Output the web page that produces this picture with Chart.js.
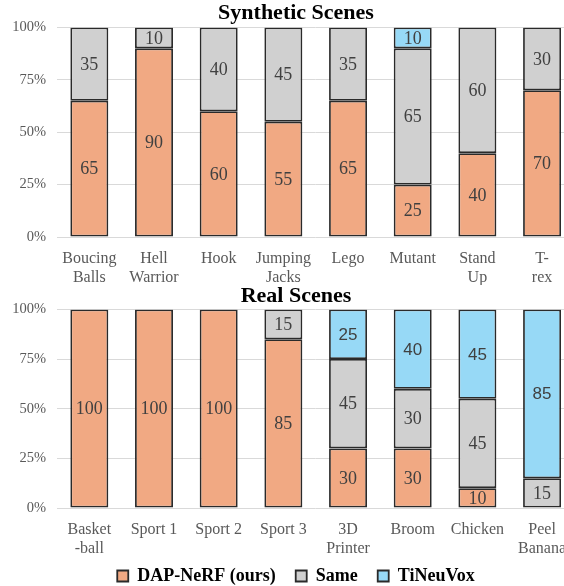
<!DOCTYPE html>
<html>
<head>
<meta charset="utf-8">
<script src="https://cdn.jsdelivr.net/npm/chart.js@4"></script>
<style>
  html, body { margin: 0; padding: 0; background: #fff; overflow: hidden; width: 564px; height: 586px; }
  .box { position: absolute; left: 0; width: 592px; }
</style>
</head>
<body>
<div class="box" style="top:0;height:285px"><canvas id="synChart" width="592" height="285"></canvas></div>
<div class="box" style="top:280px;height:315px"><canvas id="realChart" width="592" height="315"></canvas></div>
<script>
// --- data ---
const synLabels = [["Boucing", "Balls"], ["Hell", "Warrior"], "Hook", ["Jumping", "Jacks"], "Lego", "Mutant", ["Stand", "Up"], ["T-", "rex"]];
const synOurs = [65, 90, 60, 55, 65, 25, 40, 70];
const synSame = [35, 10, 40, 45, 35, 65, 60, 30];
const synTiNeuVox = [0, 0, 0, 0, 0, 10, 0, 0];

const realLabels = [["Basket", "-ball"], "Sport 1", "Sport 2", "Sport 3", ["3D", "Printer"], "Broom", "Chicken", ["Peel", "Banana"]];
const realOurs = [100, 100, 100, 85, 30, 30, 10, 0];
const realSame = [0, 0, 0, 15, 45, 30, 45, 15];
const realTiNeuVox = [0, 0, 0, 0, 25, 40, 45, 85];

const seriesNames = ["DAP-NeRF (ours)", "Same", "TiNeuVox"];
const seriesColors = ["#F1A983", "#D0D0D0", "#97D9F6"];

const SERIF = "'Liberation Serif', 'Times New Roman', serif";
const SANS = "'Liberation Sans', Arial, sans-serif";

// draws the numbers in the middle of each segment
const valueLabels = {
  id: "valueLabels",
  afterDatasetsDraw(chart) {
    const ctx = chart.ctx;
    chart.data.datasets.forEach((ds, i) => {
      const meta = chart.getDatasetMeta(i);
      meta.data.forEach((bar, j) => {
        const v = ds.data[j];
        if (!v) return;
        ctx.save();
        ctx.font = ds.labelFont;
        ctx.fillStyle = "#404040";
        ctx.textAlign = "center";
        ctx.textBaseline = "middle";
        ctx.fillText(String(v), bar.x, (bar.y + bar.base) / 2 + 1);
        ctx.restore();
      });
    });
  }
};

function makeDataset(idx, values, labelFont) {
  return {
    label: seriesNames[idx],
    data: values.map(v => v === 0 ? null : v),
    backgroundColor: seriesColors[idx],
    borderColor: "#2a2a2a",
    borderWidth: 1.8,
    borderSkipped: false,
    barPercentage: 1,
    categoryPercentage: 0.587,
    labelFont: labelFont
  };
}

function makeChart(id, title, labels, ours, same, tin, opts) {
  const ctx = document.getElementById(id);
  return new Chart(ctx, {
    type: "bar",
    data: {
      labels: labels,
      datasets: [
        makeDataset(0, ours, "18px " + SERIF),
        makeDataset(1, same, "18px " + SERIF),
        makeDataset(2, tin, opts.blueFont)
      ]
    },
    options: {
      responsive: false,
      animation: false,
      layout: { padding: 0 },
      plugins: {
        title: {
          display: true,
          text: title,
          color: "#000",
          font: { family: SERIF, size: 22, weight: "bold" },
          padding: opts.titlePadding
        },
        legend: {
          display: opts.legend,
          position: "bottom",
          labels: {
            color: "#000",
            font: { family: SERIF, size: 18, weight: "bold" },
            boxWidth: 11,
            boxHeight: 11,
            padding: 11,
            // a little extra room between items, as in the original
            generateLabels: chart => Chart.defaults.plugins.legend.labels.generateLabels(chart)
              .map((item, i, all) => Object.assign(item, { text: i < all.length - 1 ? item.text + "  " : item.text }))
          }
        },
        tooltip: { enabled: false }
      },
      scales: {
        x: {
          stacked: true,
          grid: { display: false },
          border: { display: false },
          ticks: {
            color: "#595959",
            font: { family: SERIF, size: 16, lineHeight: 1.15 },
            padding: 5,
            maxRotation: 0,
            autoSkip: false
          },
          afterFit: s => { s.height = opts.xHeight; }
        },
        y: {
          stacked: true,
          min: 0,
          max: 100,
          grid: { color: "#D9D9D9", drawTicks: false },
          border: { display: false },
          ticks: {
            stepSize: 25,
            color: "#595959",
            font: { family: SERIF, size: 14.5 },
            padding: 11,
            callback: v => v + "%"
          },
          afterFit: s => { s.width = 57; }
        },
        // empty right-hand strip so the title sits where the original has it
        pad: {
          position: "right",
          grid: { display: false },
          border: { display: false },
          ticks: { display: false },
          afterFit: s => { s.width = 17.6; }
        }
      }
    },
    plugins: [valueLabels]
  });
}

makeChart("synChart", "Synthetic Scenes", synLabels, synOurs, synSame, synTiNeuVox, {
  legend: false, titlePadding: { top: 0, bottom: 1 }, xHeight: 48, blueFont: "18px " + SERIF
});
makeChart("realChart", "Real Scenes", realLabels, realOurs, realSame, realTiNeuVox, {
  legend: true, titlePadding: { top: 3, bottom: 0 }, xHeight: 48, blueFont: "17px " + SANS
});
</script>
</body>
</html>
